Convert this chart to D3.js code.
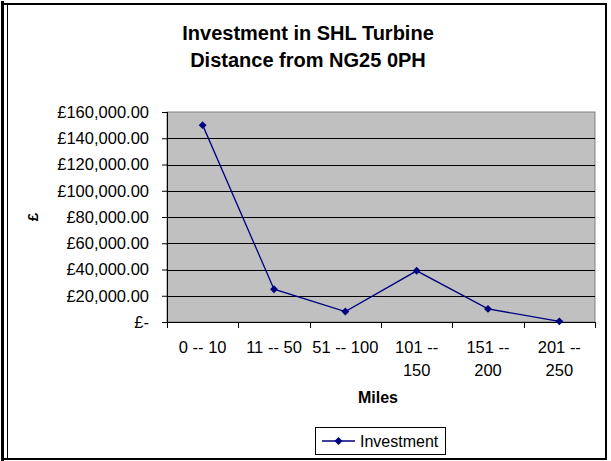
<!DOCTYPE html>
<html>
<head>
<meta charset="utf-8">
<script src="https://cdn.jsdelivr.net/npm/d3@7"></script>
<style>
  body { margin: 0; background: #fff; }
  text { font-family: Arial, "Liberation Sans", sans-serif; }
</style>
</head>
<body>
<script>
// chart data
var categories = ["0 -- 10", "11 -- 50", "51 -- 100", "101 -- 150", "151 -- 200", "201 -- 250"];
var investment = [150000, 25000, 8000, 39000, 10000, 500];
var yTicks = [0, 20000, 40000, 60000, 80000, 100000, 120000, 140000, 160000];

var W = 611, H = 461;
var margin = {top: 112, right: 16, bottom: 139, left: 167},
    width = W - margin.left - margin.right,
    height = H - margin.top - margin.bottom;

var svg = d3.select("body").append("svg")
    .attr("width", W)
    .attr("height", H);

// outer frame
svg.append("rect").attr("x", 1).attr("y", 1).attr("width", 3).attr("height", 460).attr("fill", "#000");
svg.append("rect").attr("x", 3).attr("y", 4).attr("width", 603).attr("height", 455)
    .attr("fill", "none").attr("stroke", "#000").attr("stroke-width", 2);
svg.append("line").attr("x1", 7.5).attr("x2", 7.5).attr("y1", 5).attr("y2", 458)
    .attr("stroke", "#000").attr("stroke-width", 1);

// title
var title = svg.append("text")
    .attr("text-anchor", "middle")
    .attr("font-weight", "bold")
    .attr("font-size", "20px");
title.append("tspan").attr("x", 308).attr("y", 40).text("Investment in SHL Turbine");
title.append("tspan").attr("x", 308).attr("y", 67).text("Distance from NG25 0PH");

var g = svg.append("g")
    .attr("transform", "translate(" + margin.left + "," + margin.top + ")");

var x = d3.scaleBand().domain(categories).range([0, width]);
var y = d3.scaleLinear().domain([0, 160000]).range([height, 0]);

// plot area
g.append("rect")
    .attr("width", width).attr("height", height)
    .attr("fill", "#c0c0c0")
    .attr("stroke", "#808080");

// gridlines
g.selectAll(".grid")
    .data(yTicks.slice(1, -1))
  .enter().append("line")
    .attr("x1", 0).attr("x2", width)
    .attr("y1", function(d) { return Math.round(y(d)) + 0.5; })
    .attr("y2", function(d) { return Math.round(y(d)) + 0.5; })
    .attr("stroke", "#000");

var fmt = function(d) {
  return d === 0 ? "£-" : "£" + d3.format(",.2f")(d);
};

// y axis
var yAxis = g.append("g")
    .call(d3.axisLeft(y).tickValues(yTicks).tickFormat(fmt).tickSize(5).tickPadding(13));
yAxis.selectAll("text").attr("font-size", "16.5px").attr("fill", "#000").attr("font-family", "Arial, 'Liberation Sans', sans-serif");
yAxis.selectAll("line, path").attr("stroke", "#000");
yAxis.select(".domain").attr("d", "M0.5," + height + "V0");

// x axis
var xAxis = g.append("g")
    .attr("transform", "translate(0," + height + ")")
    .call(d3.axisBottom(x).tickSize(0).tickFormat(""));
xAxis.select(".domain").attr("d", "M0," + 0.5 + "H" + width).attr("stroke", "#000");
xAxis.selectAll(".sep")
    .data(d3.range(categories.length + 1))
  .enter().append("line")
    .attr("x1", function(i) { return Math.round(i * x.bandwidth()) + 0.5; })
    .attr("x2", function(i) { return Math.round(i * x.bandwidth()) + 0.5; })
    .attr("y1", 0).attr("y2", 6)
    .attr("stroke", "#000");

// category labels, wrapped like the original
var labelLines = {
  "0 -- 10": ["0 -- 10"],
  "11 -- 50": ["11 -- 50"],
  "51 -- 100": ["51 -- 100"],
  "101 -- 150": ["101 --", "150"],
  "151 -- 200": ["151 --", "200"],
  "201 -- 250": ["201 --", "250"]
};
var lbl = xAxis.selectAll(".lbl")
    .data(categories)
  .enter().append("text")
    .attr("text-anchor", "middle")
    .attr("font-size", "16.5px")
    .attr("fill", "#000");
lbl.each(function(d) {
  var t = d3.select(this);
  labelLines[d].forEach(function(s, i) {
    t.append("tspan")
      .attr("x", x(d) + x.bandwidth() / 2)
      .attr("y", 31 + i * 23)
      .text(s);
  });
});

// axis titles
svg.append("text")
    .attr("x", margin.left + width / 2 - 3).attr("y", 403)
    .attr("text-anchor", "middle")
    .attr("font-weight", "bold").attr("font-size", "16px")
    .text("Miles");
svg.append("text")
    .attr("transform", "translate(38," + (margin.top + height / 2) + ") rotate(-90)")
    .attr("text-anchor", "middle")
    .attr("font-weight", "bold").attr("font-size", "15px")
    .text("£");

// the line
var line = d3.line()
    .x(function(d, i) { return x(categories[i]) + x.bandwidth() / 2; })
    .y(function(d) { return y(d); });
g.append("path")
    .datum(investment)
    .attr("fill", "none")
    .attr("stroke", "#000080")
    .attr("stroke-width", 1.3)
    .attr("d", line);

var diamond = d3.symbol().type(d3.symbolDiamond2).size(40);
g.selectAll(".pt")
    .data(investment)
  .enter().append("path")
    .attr("transform", function(d, i) {
      return "translate(" + (x(categories[i]) + x.bandwidth() / 2) + "," + y(d) + ")";
    })
    .attr("d", diamond)
    .attr("fill", "#000080");

// legend
var lg = svg.append("g").attr("transform", "translate(315,427)");
lg.append("rect").attr("x", 0.5).attr("y", 0.5).attr("width", 130).attr("height", 27)
    .attr("fill", "#fff").attr("stroke", "#000");
lg.append("line").attr("x1", 7).attr("x2", 40).attr("y1", 14).attr("y2", 14)
    .attr("stroke", "#000080").attr("stroke-width", 1.3);
lg.append("path").attr("transform", "translate(23.5,14)").attr("d", diamond).attr("fill", "#000080");
lg.append("text").attr("x", 45).attr("y", 19.5).attr("font-size", "16px").text("Investment");
</script>
</body>
</html>
